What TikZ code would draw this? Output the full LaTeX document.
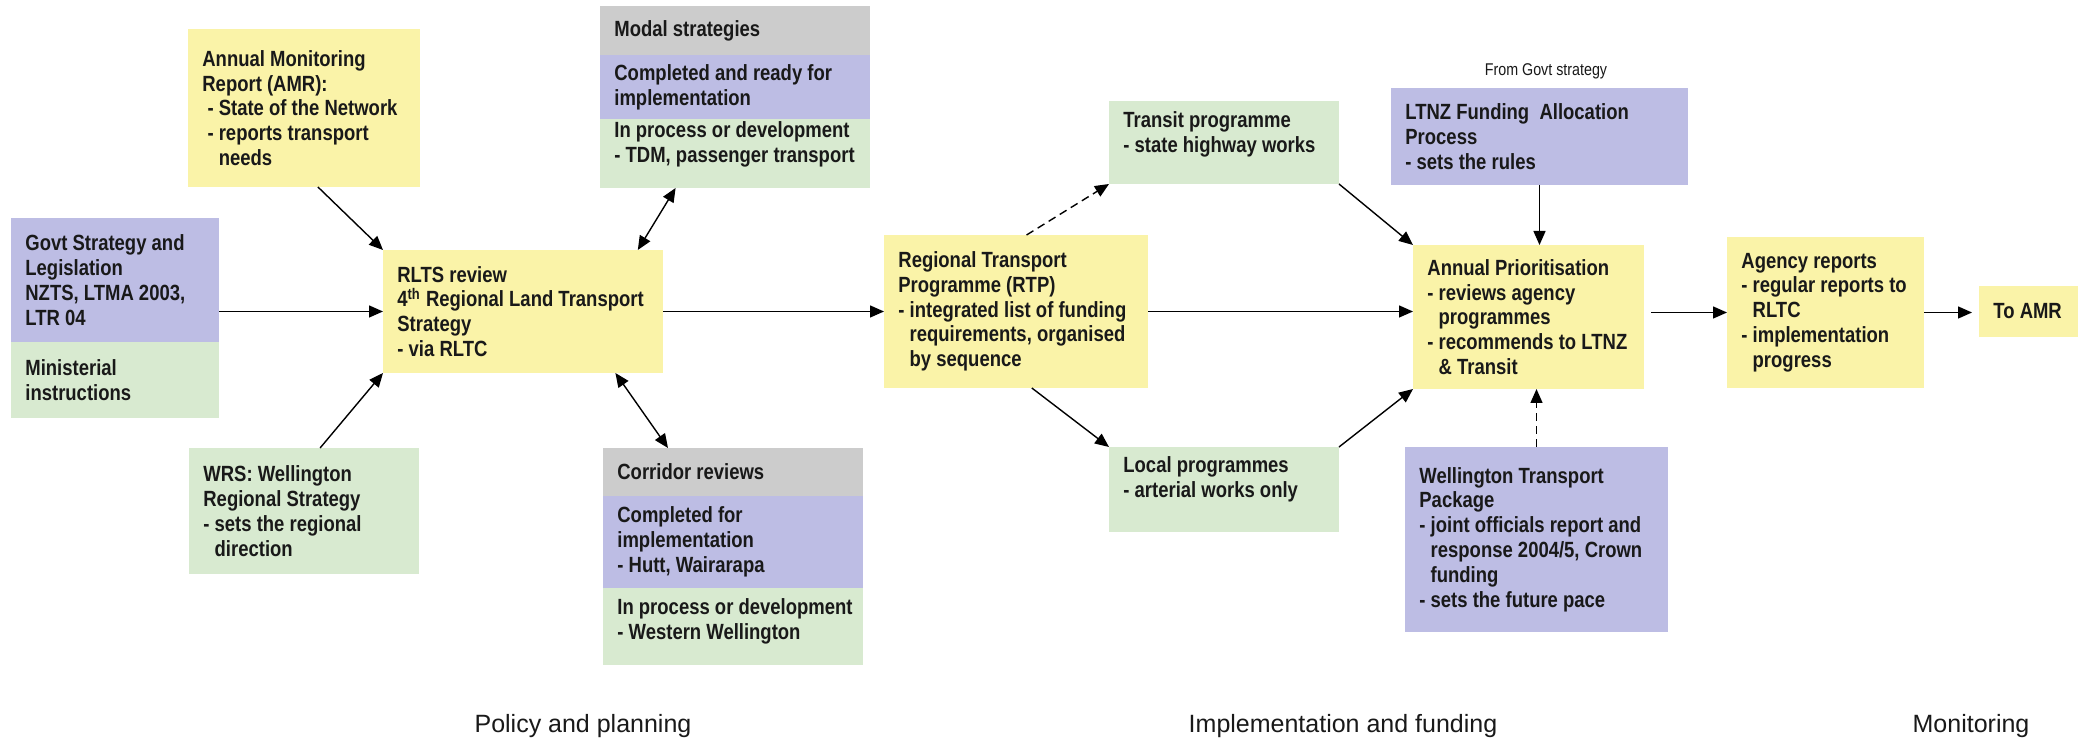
\documentclass[tikz,border=0pt]{standalone}
\usepackage{fontspec}
\setmainfont{Liberation Sans}
\newfontfamily\narrowfont{Liberation Sans}[FakeStretch=0.84]
\usetikzlibrary{arrows.meta,calc}
\definecolor{ylw}{RGB}{250,243,168}
\definecolor{pur}{RGB}{189,189,228}
\definecolor{grn}{RGB}{216,234,208}
\definecolor{gry}{RGB}{204,204,204}
\tikzset{
  box/.style={rectangle, draw=none, inner sep=0pt, outer sep=0pt},
  boxtext/.style={font=\narrowfont\bfseries\fontsize{11}{12.4}\selectfont, align=left, inner sep=0pt, text=black!90},
  lbl/.style={font=\fontsize{12.5}{15}\selectfont, inner sep=0pt, anchor=base, text=black!90},
  small/.style={font=\narrowfont\fontsize{8.5}{10}\selectfont, inner sep=0pt, text=black!90},
  arr/.style={-{Triangle[length=7pt,width=6pt]}, line width=0.7pt},
  darr/.style={{Triangle[length=7pt,width=6pt]}-{Triangle[length=7pt,width=6pt]}, line width=0.7pt},
  dsh/.style={dash pattern=on 4pt off 2.5pt}
}
\newcommand\ind{\hphantom{- }}
% #1 text y offset (px), #2 name, #3 x1, #4 y1, #5 x2, #6 y2, #7 colour, #8 text
\newcommand\bx[8][0]{%
  \pgfmathsetmacro\bw{(#5-#3)*0.5}%
  \pgfmathsetmacro\bh{(#6-#4)*0.5}%
  \node[box, fill=#7, minimum width=\bw pt, minimum height=\bh pt] (#2) at ({(#3+#5)/2},{(#4+#6)/2}) {};
  \node[boxtext, anchor=west] (#2-t) at ({#3+14},{(#4+#6)/2+#1}) {#8};
}
\begin{document}
\begin{tikzpicture}[x=0.5pt,y=-0.5pt]
\useasboundingbox (0,0) rectangle (2089,747);
\fill[white] (0,0) rectangle (2089,747);

% boxes
\bx{amr}{188}{29}{420}{187}{ylw}{Annual Monitoring\\Report (AMR):\\\ - State of the Network\\\ - reports transport\\\ \ind needs}
\bx{govtA}{11}{218}{219}{342}{pur}{Govt Strategy and\\Legislation\\NZTS, LTMA 2003,\\LTR 04}
\bx{govtB}{11}{342}{219}{418}{grn}{Ministerial\\instructions}
\bx{rlts}{383}{250}{663}{373}{ylw}{RLTS review\\4\textsuperscript{th} Regional Land Transport\\Strategy\\- via RLTC}
\bx{wrs}{189}{448}{419}{574}{grn}{WRS: Wellington\\Regional Strategy\\- sets the regional\\\ind direction}
\bx{modalA}{600}{6}{870}{55}{gry}{Modal strategies}
\bx{modalB}{600}{55}{870}{119}{pur}{Completed and ready for\\implementation}
\bx[-9]{modalC}{600}{119}{870}{188}{grn}{In process or development\\- TDM, passenger transport}
\bx{corrA}{603}{448}{863}{496}{gry}{Corridor reviews}
\bx{corrB}{603}{496}{863}{588}{pur}{Completed for\\implementation\\- Hutt, Wairarapa}
\bx[-5]{corrC}{603}{588}{863}{665}{grn}{In process or development\\- Western Wellington}
\bx{rtp}{884}{235}{1148}{388}{ylw}{Regional Transport\\Programme (RTP)\\- integrated list of funding\\\ind requirements, organised\\\ind by sequence}
\bx[-8]{transit}{1109}{101}{1339}{184}{grn}{Transit programme\\- state highway works}
\bx[-10]{local}{1109}{447}{1339}{532}{grn}{Local programmes\\- arterial works only}
\bx{ltnz}{1391}{88}{1688}{185}{pur}{LTNZ Funding~~Allocation\\Process\\- sets the rules}
\bx{ap}{1413}{245}{1644}{389}{ylw}{Annual Prioritisation\\- reviews agency\\\ind programmes\\- recommends to LTNZ\\\ind \& Transit}
\bx{wtp}{1405}{447}{1668}{632}{pur}{Wellington Transport\\Package\\- joint officials report and\\\ind response 2004/5, Crown\\\ind funding\\- sets the future pace}
\bx{agency}{1727}{237}{1924}{388}{ylw}{Agency reports\\- regular reports to\\\ind RLTC\\- implementation\\\ind progress}
\bx{toamr}{1979}{286}{2078}{337}{ylw}{To AMR}

% small note and stage labels
\node[small] (fromgovt) at (1546,71) {From Govt strategy};
\node[lbl] (lpolicy) at (583,733) {Policy and planning};
\node[lbl] (limpl) at (1343,733) {Implementation and funding};
\node[lbl] (lmon) at (1971,733) {Monitoring};

% connectors
\draw[arr] ($(amr.south west)!0.56!(amr.south east)$) -- (rlts.north west);
\draw[arr] (govtA.east |- rlts.west) -- (rlts.west);
\draw[arr] ($(wrs.north west)!0.57!(wrs.north east)$) -- (rlts.south west);
\draw[darr] ($(modalC.south west)!0.28!(modalC.south east)$) -- ($(rlts.north west)!0.91!(rlts.north east)$);
\draw[darr] ($(rlts.south west)!0.83!(rlts.south east)$) -- ($(corrA.north west)!0.25!(corrA.north east)$);
\draw[arr] (rlts.east) -- (rlts.east -| rtp.west);
\draw[arr,dsh] ($(rtp.north west)!0.54!(rtp.north east)$) -- (transit.south west);
\draw[arr] ($(rtp.south west)!0.56!(rtp.south east)$) -- (local.north west);
\draw[arr] (rtp.east) -- (rtp.east -| ap.west);
\draw[arr] (transit.south east) -- (ap.north west);
\draw[arr] (local.north east) -- (ap.south west);
\draw[arr] (ltnz.south) -- (ltnz.south |- ap.north);
\draw[arr,dsh] (wtp.north) -- (wtp.north |- ap.south);
\draw[arr, shorten <=3.5pt] (ap.east |- agency.west) -- (agency.west);
\draw[arr, shorten >=3.5pt] (agency.east) -- (agency.east -| toamr.west);
\end{tikzpicture}
\end{document}
